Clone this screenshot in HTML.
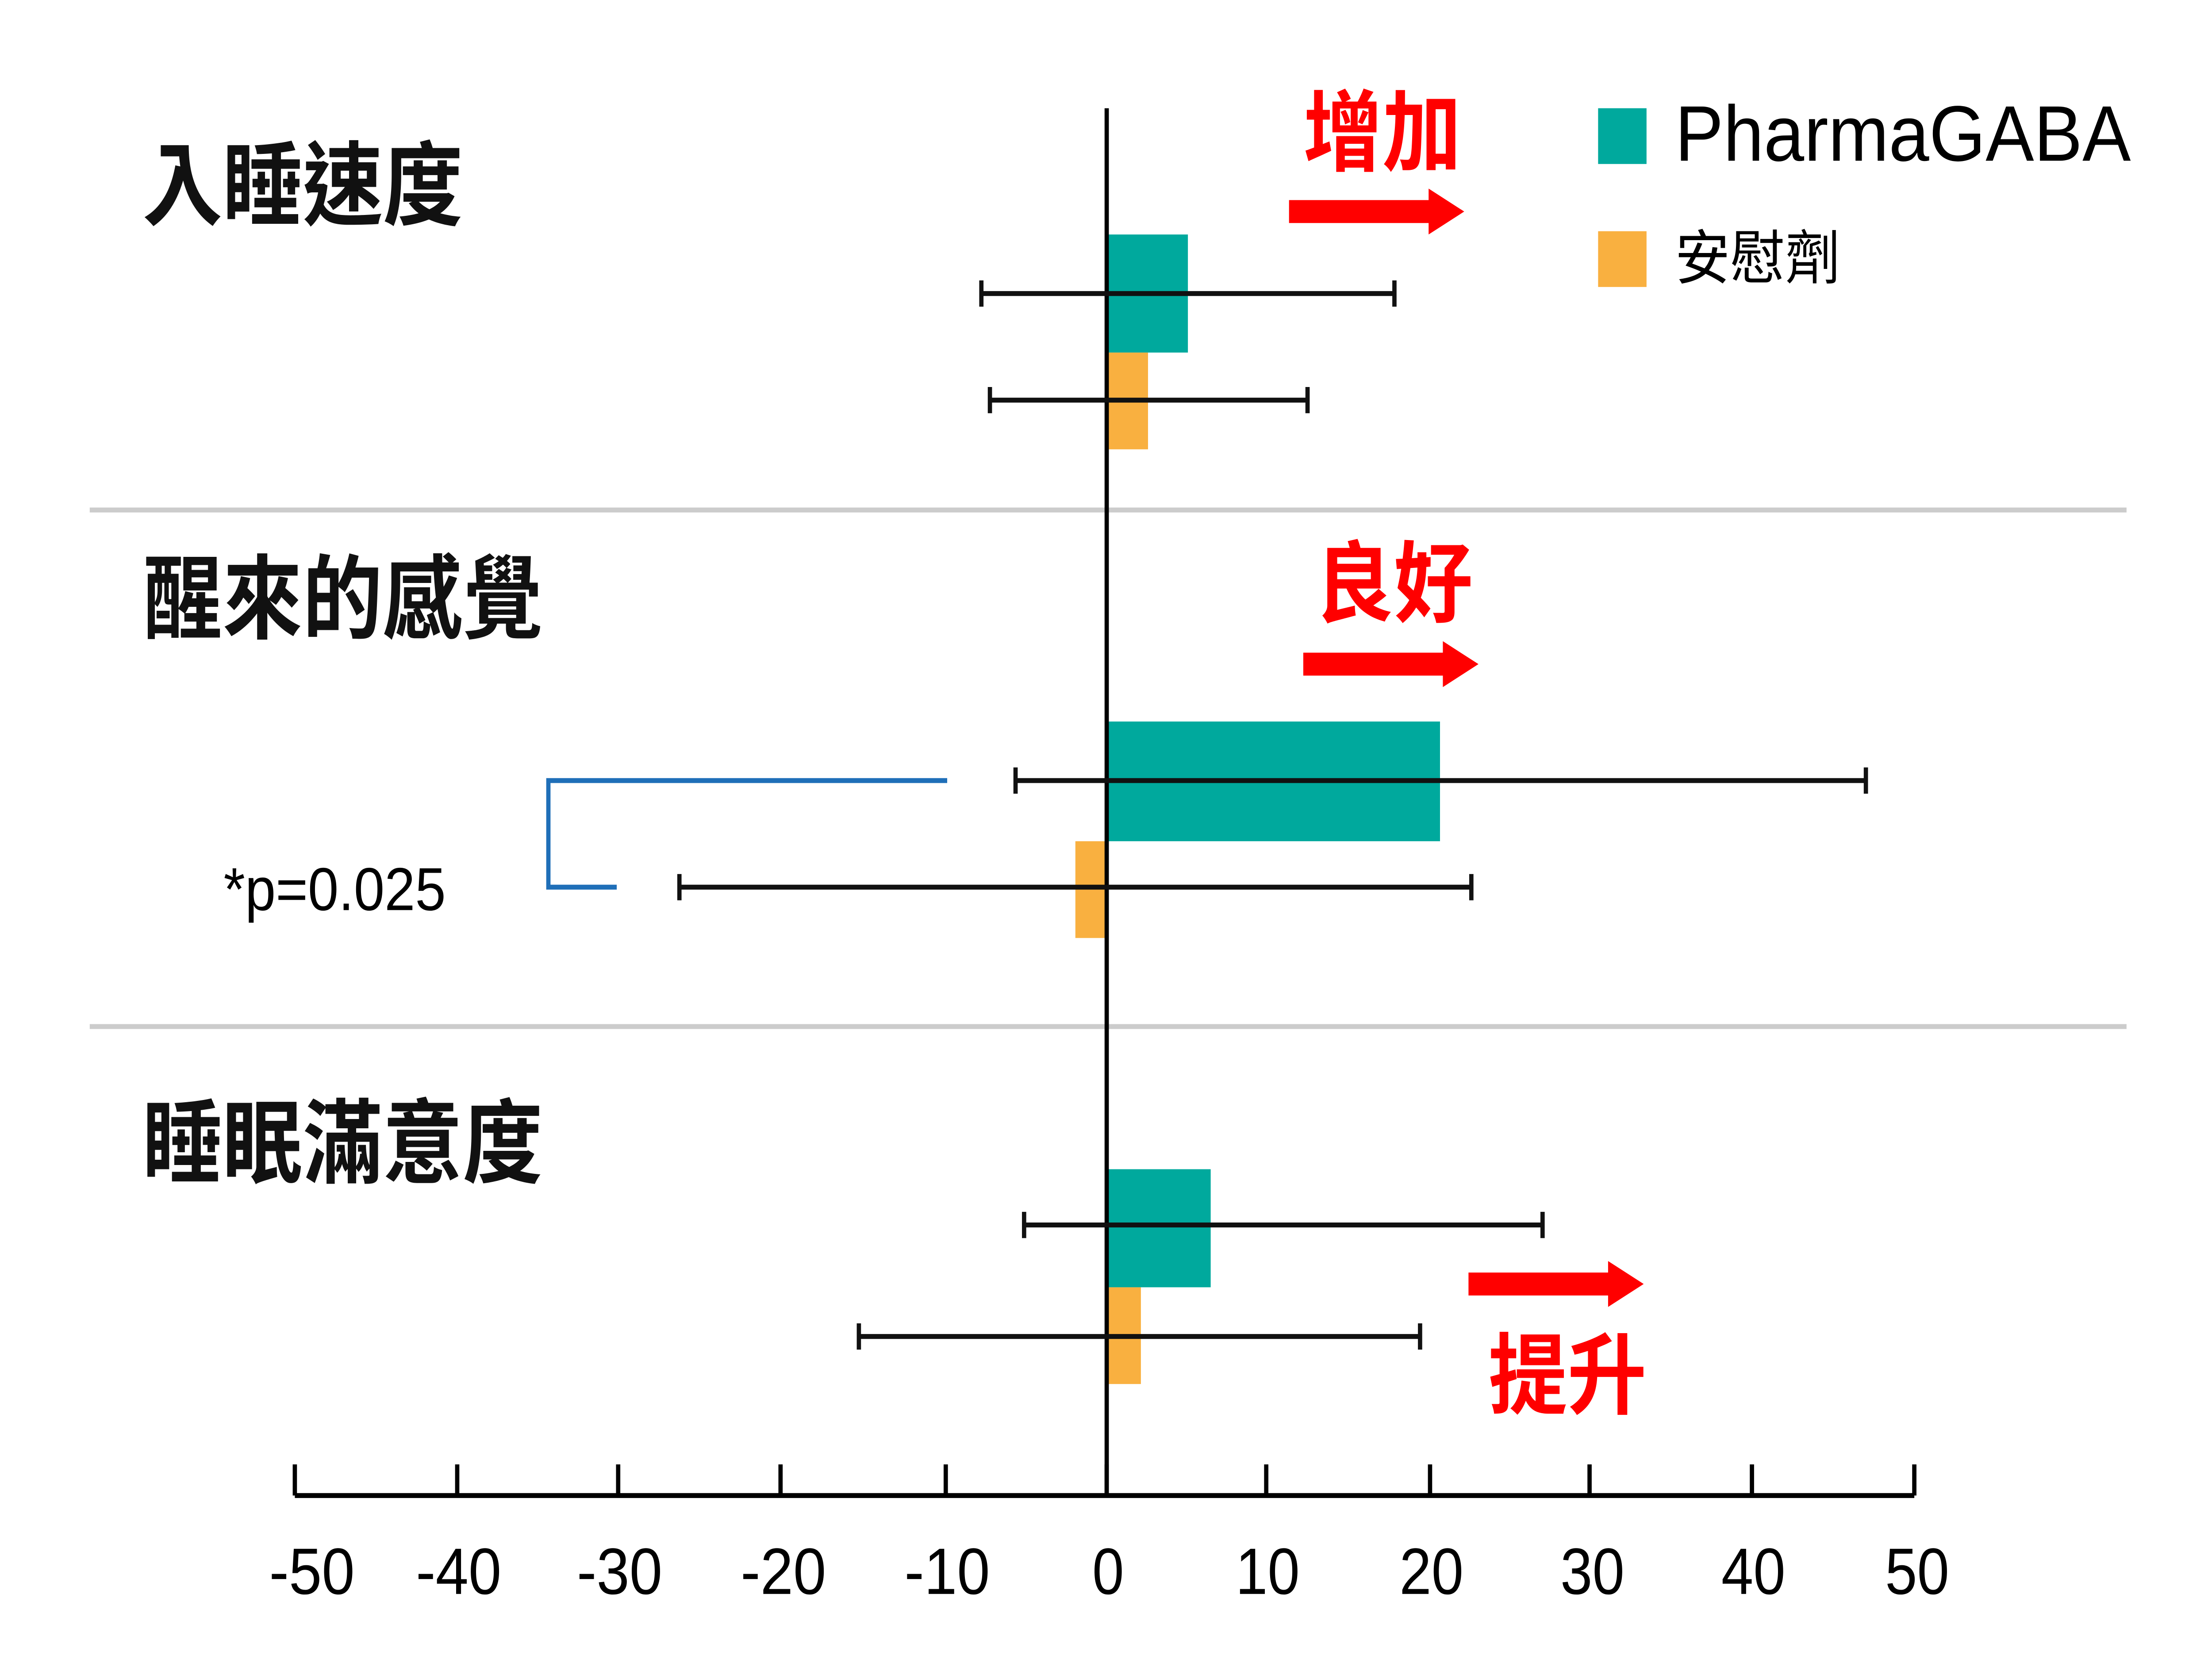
<!DOCTYPE html>
<html><head><meta charset="utf-8"><style>
html,body{margin:0;padding:0;background:#fff;overflow:hidden;width:100%;height:100%;}
svg{display:block;position:fixed;left:0;top:0;width:100vw;height:100vh;}
text{font-family:"Liberation Sans","Noto Sans CJK TC",sans-serif;}
</style></head><body>
<svg viewBox="0 0 1553 1019" preserveAspectRatio="none" xmlns="http://www.w3.org/2000/svg">
<rect width="1553" height="1019" fill="#fff"/>
<line x1="63" y1="311" x2="1493" y2="311" stroke="#cccccc" stroke-width="3"/>
<line x1="63" y1="626" x2="1493" y2="626" stroke="#cccccc" stroke-width="3"/>
<rect x="777" y="143" width="57" height="72" fill="#00A99D"/>
<rect x="777" y="215" width="29" height="59" fill="#F9B040"/>
<rect x="777" y="440" width="234" height="73" fill="#00A99D"/>
<rect x="755" y="513" width="22" height="59" fill="#F9B040"/>
<rect x="777" y="713" width="73" height="72" fill="#00A99D"/>
<rect x="777" y="785" width="24" height="59" fill="#F9B040"/>
<line x1="777" y1="66" x2="777" y2="912" stroke="#000" stroke-width="3"/>
<g stroke="#111" stroke-width="3">
<line x1="689" y1="179" x2="979" y2="179"/><line x1="689" y1="171" x2="689" y2="187"/><line x1="979" y1="171" x2="979" y2="187"/>
<line x1="695" y1="244" x2="918" y2="244"/><line x1="695" y1="236" x2="695" y2="252"/><line x1="918" y1="236" x2="918" y2="252"/>
<line x1="713" y1="476" x2="1310" y2="476"/><line x1="713" y1="468" x2="713" y2="484"/><line x1="1310" y1="468" x2="1310" y2="484"/>
<line x1="477" y1="541" x2="1033" y2="541"/><line x1="477" y1="533" x2="477" y2="549"/><line x1="1033" y1="533" x2="1033" y2="549"/>
<line x1="719" y1="747" x2="1083" y2="747"/><line x1="719" y1="739" x2="719" y2="755"/><line x1="1083" y1="739" x2="1083" y2="755"/>
<line x1="603" y1="815" x2="997" y2="815"/><line x1="603" y1="807" x2="603" y2="823"/><line x1="997" y1="807" x2="997" y2="823"/>
</g>
<polyline points="665,476 385,476 385,541 433,541" fill="none" stroke="#1f6fb8" stroke-width="3"/>
<text x="157" y="555" font-size="37" fill="#000" textLength="156" lengthAdjust="spacingAndGlyphs">*p=0.025</text>
<g stroke="#000" stroke-width="3">
<line x1="207" y1="912" x2="1344" y2="912"/>
<line x1="207" y1="893" x2="207" y2="912"/><line x1="321" y1="893" x2="321" y2="912"/>
<line x1="434" y1="893" x2="434" y2="912"/><line x1="548" y1="893" x2="548" y2="912"/>
<line x1="664" y1="893" x2="664" y2="912"/><line x1="777" y1="893" x2="777" y2="912"/>
<line x1="889" y1="893" x2="889" y2="912"/><line x1="1004" y1="893" x2="1004" y2="912"/>
<line x1="1116" y1="893" x2="1116" y2="912"/><line x1="1230" y1="893" x2="1230" y2="912"/>
<line x1="1344" y1="893" x2="1344" y2="912"/>
</g>
<g font-size="40" text-anchor="middle" fill="#000">
<text x="219" y="972" textLength="60" lengthAdjust="spacingAndGlyphs">-50</text>
<text x="322" y="972" textLength="60" lengthAdjust="spacingAndGlyphs">-40</text>
<text x="435" y="972" textLength="60" lengthAdjust="spacingAndGlyphs">-30</text>
<text x="550" y="972" textLength="60" lengthAdjust="spacingAndGlyphs">-20</text>
<text x="665" y="972" textLength="60" lengthAdjust="spacingAndGlyphs">-10</text>
<text x="778" y="972">0</text>
<text x="890" y="972" textLength="45" lengthAdjust="spacingAndGlyphs">10</text>
<text x="1005" y="972" textLength="45" lengthAdjust="spacingAndGlyphs">20</text>
<text x="1118" y="972" textLength="45" lengthAdjust="spacingAndGlyphs">30</text>
<text x="1231" y="972" textLength="45" lengthAdjust="spacingAndGlyphs">40</text>
<text x="1346" y="972" textLength="45" lengthAdjust="spacingAndGlyphs">50</text>
</g>
<g font-size="56" font-weight="bold" fill="#111">
<text x="100" y="133" textLength="225" lengthAdjust="spacingAndGlyphs">入睡速度</text>
<text x="100" y="385" textLength="281" lengthAdjust="spacingAndGlyphs">醒來的感覺</text>
<text x="100" y="717" textLength="281" lengthAdjust="spacingAndGlyphs">睡眠滿意度</text>
</g>
<g fill="#ff0000" font-size="54" font-weight="bold">
<text x="915" y="100" textLength="111" lengthAdjust="spacingAndGlyphs">增加</text>
<text x="923" y="375" textLength="111" lengthAdjust="spacingAndGlyphs">良好</text>
<text x="1045" y="858" textLength="111" lengthAdjust="spacingAndGlyphs">提升</text>
</g>
<g fill="#ff0000">
<polygon points="905,122 1003,122 1003,115 1028,129 1003,143 1003,136 905,136"/>
<polygon points="915,398 1013,398 1013,391 1038,405 1013,419 1013,412 915,412"/>
<polygon points="1031,776 1129,776 1129,769 1154,783 1129,797 1129,790 1031,790"/>
</g>
<rect x="1122" y="66" width="34" height="34" fill="#00A99D"/>
<text x="1176" y="98" font-size="48" fill="#000" textLength="320" lengthAdjust="spacingAndGlyphs">PharmaGABA</text>
<rect x="1122" y="141" width="34" height="34" fill="#F9B040"/>
<text x="1176" y="170" font-size="36" fill="#000" textLength="116" lengthAdjust="spacingAndGlyphs">安慰劑</text>
</svg>
</body></html>
